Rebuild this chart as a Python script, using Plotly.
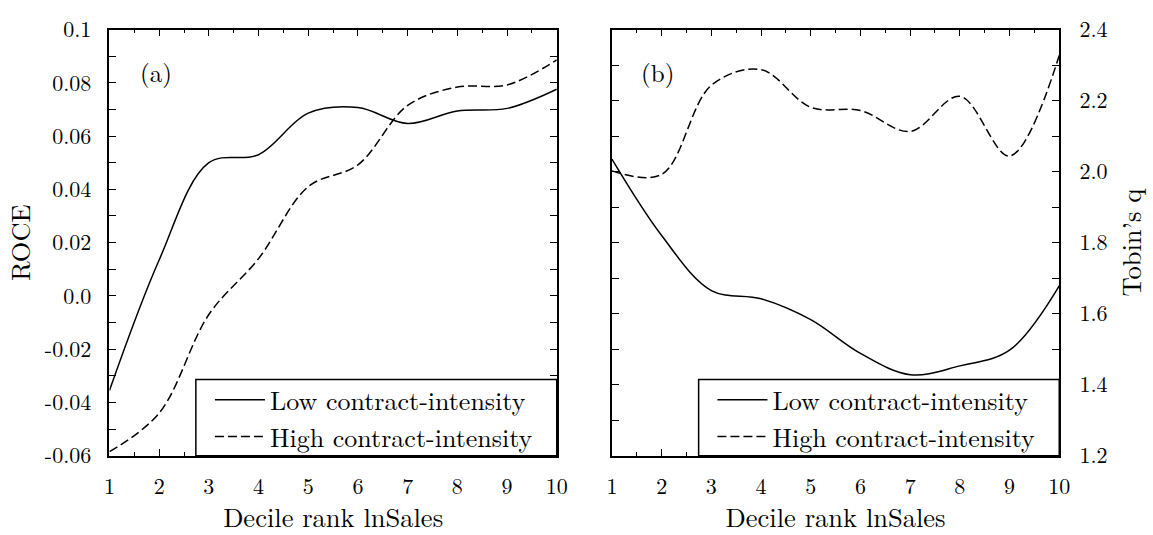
import plotly.graph_objects as go

# ---------------- data ----------------
deciles = [1, 2, 3, 4, 5, 6, 7, 8, 9, 10]

roce_low = [-0.0355, 0.0135, 0.0500, 0.0530, 0.0686, 0.0707, 0.0647, 0.0694, 0.0704, 0.0776]
roce_high = [-0.0585, -0.0440, -0.0070, 0.0140, 0.0410, 0.0492, 0.0715, 0.0784, 0.0792, 0.0886]

q_low = [2.035, 1.820, 1.665, 1.642, 1.583, 1.488, 1.428, 1.453, 1.497, 1.678]
q_high = [2.002, 1.992, 2.243, 2.287, 2.181, 2.172, 2.113, 2.212, 2.044, 2.327]

series_names = ["Low contract-intensity", "High contract-intensity"]
roce_tickvals = [-0.06, -0.04, -0.02, 0.0, 0.02, 0.04, 0.06, 0.08, 0.1]
roce_ticktext = ["-0.06", "-0.04", "-0.02", "0.0", "0.02", "0.04", "0.06", "0.08", "0.1"]
q_tickvals = [1.2, 1.4, 1.6, 1.8, 2.0, 2.2, 2.4]
q_ticktext = ["1.2", "1.4", "1.6", "1.8", "2.0", "2.2", "2.4"]
x_title = "Decile rank lnSales"
y1_title = "ROCE"
y2_title = "Tobin\u2019s q"
panel_labels = ["(a)", "(b)"]

# ---------------- figure ----------------
W, H = 1153, 535
FONT = "Latin Modern Roman, Liberation Serif, serif"

def px(x):
    return x / W

def py(y):
    return 1 - y / H

fig = go.Figure()

line_solid = dict(color="black", width=1.5, shape="spline", smoothing=1.0)
line_dash = dict(color="black", width=1.5, shape="spline", smoothing=1.0, dash="9px,4px")

fig.add_trace(go.Scatter(x=deciles, y=roce_low, mode="lines", name=series_names[0],
                         line=line_solid, xaxis="x", yaxis="y", legend="legend"))
fig.add_trace(go.Scatter(x=deciles, y=roce_high, mode="lines", name=series_names[1],
                         line=line_dash, xaxis="x", yaxis="y", legend="legend"))
fig.add_trace(go.Scatter(x=deciles, y=q_low, mode="lines", name=series_names[0],
                         line=line_solid, xaxis="x2", yaxis="y2", legend="legend2"))
fig.add_trace(go.Scatter(x=deciles, y=q_high, mode="lines", name=series_names[1],
                         line=line_dash, xaxis="x2", yaxis="y2", legend="legend2"))

tick_font = dict(family=FONT, size=22, color="black")
title_font = dict(family=FONT, size=26.5, color="black")
legend_font = dict(family=FONT, size=26, color="black")
panel_font = dict(family=FONT, size=25, color="black")

common_x = dict(
    range=[1, 10], tickmode="array", tickvals=deciles, ticks="inside", ticklen=7,
    tickwidth=1.2, tickcolor="black", showline=True, linecolor="black", linewidth=1.5,
    mirror="ticks", showgrid=False, zeroline=False, tickfont=tick_font,
    ticklabeloverflow="allow",
    minor=dict(ticks="inside", dtick=0.5, tick0=1, ticklen=3.5, tickwidth=1.2,
               tickcolor="black", showgrid=False),
    title=dict(text=x_title, font=title_font, standoff=6),
    ticklabelstandoff=10,
)

common_y = dict(
    ticks="inside", ticklen=7, tickwidth=1.2, tickcolor="black",
    showline=True, linecolor="black", linewidth=1.5, mirror="ticks",
    showgrid=False, zeroline=False, tickfont=tick_font, tickmode="array",
    ticklabeloverflow="allow",
)

fig.update_layout(
    width=W, height=H,
    margin=dict(l=0, r=0, t=0, b=0),
    paper_bgcolor="white", plot_bgcolor="white",
    font=dict(family=FONT, color="black"),
    xaxis=dict(domain=[px(105), px(559)], anchor="y", **common_x),
    xaxis2=dict(domain=[px(615), px(1069)], anchor="y2", **common_x),
    yaxis=dict(
        domain=[py(465.7), py(13.3)], anchor="x", range=[-0.06, 0.1],
        tickvals=roce_tickvals, ticktext=roce_ticktext,
        minor=dict(ticks="inside", tickmode="linear", dtick=0.01, tick0=-0.06, ticklen=7,
                   tickwidth=1.2, tickcolor="black", showgrid=False),
        title=dict(text=y1_title, font=title_font, standoff=10),
        ticklabelstandoff=12,
        **common_y,
    ),
    yaxis2=dict(
        domain=[py(465.7), py(13.3)], anchor="x2", side="right", range=[1.2, 2.4],
        tickvals=q_tickvals, ticktext=q_ticktext,
        minor=dict(ticks="inside", tickmode="linear", dtick=0.1, tick0=1.2, ticklen=7,
                   tickwidth=1.2, tickcolor="black", showgrid=False),
        title=dict(text=y2_title, font=title_font, standoff=16),
        ticklabelstandoff=14,
        **common_y,
    ),
    showlegend=True,
    legend=dict(x=px(207), y=py(426), xanchor="left", yanchor="middle",
                bgcolor="rgba(0,0,0,0)", borderwidth=0,
                font=legend_font, itemwidth=50, tracegroupgap=0),
    legend2=dict(x=px(717), y=py(426), xanchor="left", yanchor="middle",
                 bgcolor="rgba(0,0,0,0)", borderwidth=0,
                 font=legend_font, itemwidth=50, tracegroupgap=0),
    shapes=[
        dict(type="rect", xref="paper", yref="paper", x0=px(192.7), x1=px(559),
             y0=py(465.7), y1=py(384.7), fillcolor="white",
             line=dict(color="black", width=1.5), layer="above"),
        dict(type="rect", xref="paper", yref="paper", x0=px(703), x1=px(1069),
             y0=py(465.7), y1=py(384.7), fillcolor="white",
             line=dict(color="black", width=1.5), layer="above"),
    ],
    annotations=[
        dict(text=panel_labels[0], xref="paper", yref="paper", x=px(134), y=py(58),
             xanchor="left", yanchor="middle", showarrow=False, font=panel_font),
        dict(text=panel_labels[1], xref="paper", yref="paper", x=px(642), y=py(58),
             xanchor="left", yanchor="middle", showarrow=False, font=panel_font),
    ],
)

fig.write_html("out.html")
